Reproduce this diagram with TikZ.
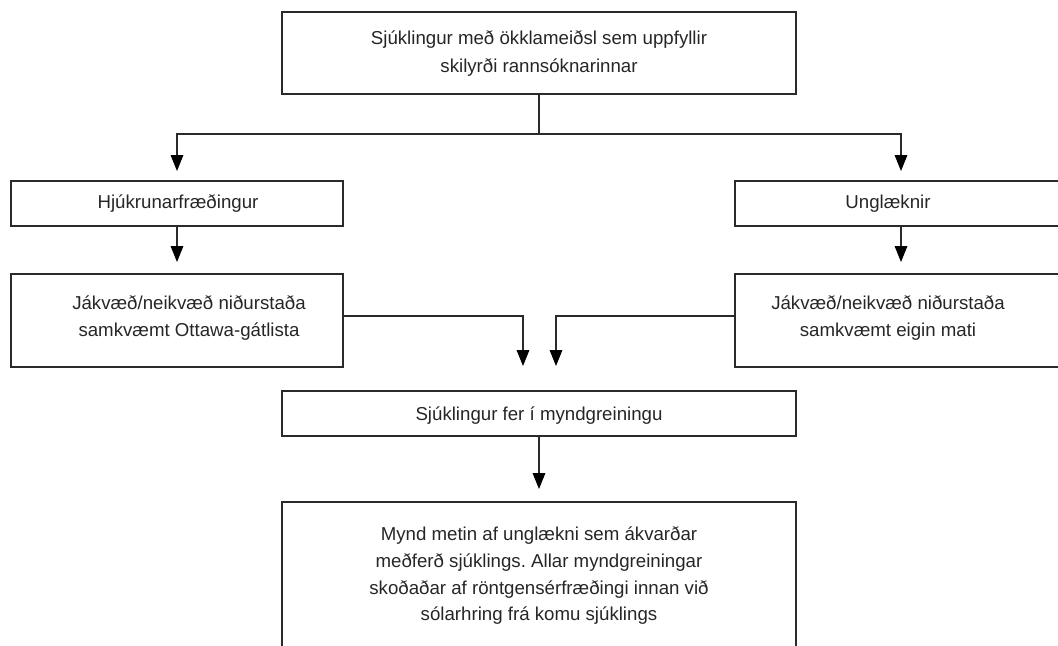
\documentclass[tikz,border=0pt]{standalone}
\usepackage{fontspec}
\setmainfont{Liberation Sans}
\usetikzlibrary{arrows.meta}
\definecolor{linec}{HTML}{2A2A2A}
\definecolor{textc}{HTML}{262626}
\frenchspacing
\begin{document}
\begin{tikzpicture}[x=0.75pt,y=-0.75pt,
  box/.style={draw=linec, line width=0.9pt, inner sep=0pt, outer sep=0pt},
  lbl/.style={text=textc, font=\fontsize{14}{20}\selectfont, align=center, inner sep=0pt},
  conn/.style={draw=linec, line width=0.8pt},
  arr/.style={conn, -{Triangle[length=12pt,width=9.5pt,fill=black,color=black]}}]
\useasboundingbox (0,0) rectangle (1058,646);
\clip (0,0) rectangle (1058,646);
% boxes
\node[box, minimum width=385.5pt, minimum height=61.5pt] (top) at (539,53) {};
\node[box, minimum width=249pt, minimum height=33.75pt] (L1) at (177,203.5) {};
\node[box, minimum width=249pt, minimum height=33.75pt] (R1) at (901,203.5) {};
\node[box, minimum width=249pt, minimum height=69.75pt] (L2) at (177,320.5) {};
\node[box, minimum width=249pt, minimum height=69.75pt] (R2) at (901,320.5) {};
\node[box, minimum width=385.5pt, minimum height=33.75pt] (M) at (539,413.5) {};
\node[box, minimum width=385.5pt, minimum height=150pt] (B) at (539,602) {};
% texts
\node[lbl, font=\fontsize{14}{21}\selectfont] (ttop) at (539,54) {Sjúklingur með ökklameiðsl sem uppfyllir\\skilyrði rannsóknarinnar};
\node[lbl, anchor=base] (tL1) at (178,208) {Hjúkrunarfræðingur};
\node[lbl, anchor=base] (tR1) at (888,208) {Unglæknir};
\node[lbl] (tL2) at (189,318) {Jákvæð/neikvæð niðurstaða\\samkvæmt Ottawa-gátlista};
\node[lbl] (tR2) at (888,318) {Jákvæð/neikvæð niðurstaða\\samkvæmt eigin mati};
\node[lbl, anchor=base] (tM) at (539,420) {Sjúklingur fer í myndgreiningu};
\node[lbl] (tB) at (539,576) {Mynd metin af unglækni sem ákvarðar\\meðferð sjúklings. Allar myndgreiningar\\skoðaðar af röntgensérfræðingi innan við\\sólarhring frá komu sjúklings};
% connectors
\coordinate (br) at (539,134);
\draw[conn] (top.south) -- (br);
\draw[arr, shorten >=7.5pt] (br) -| (L1.north);
\draw[arr, shorten >=7.5pt] (br) -| (R1.north);
\draw[arr, shorten >=9pt] (L1.south) -- (L2.north);
\draw[arr, shorten >=9pt] (R1.south) -- (R2.north);
\draw[arr] ([yshift=3.4pt]L2.east) -| ([xshift=-12pt,yshift=18.75pt]M.north);
\draw[arr] ([yshift=3.4pt]R2.west) -| ([xshift=12.75pt,yshift=18.75pt]M.north);
\draw[arr, shorten >=9.75pt] (M.south) -- (B.north);
\end{tikzpicture}
\end{document}
